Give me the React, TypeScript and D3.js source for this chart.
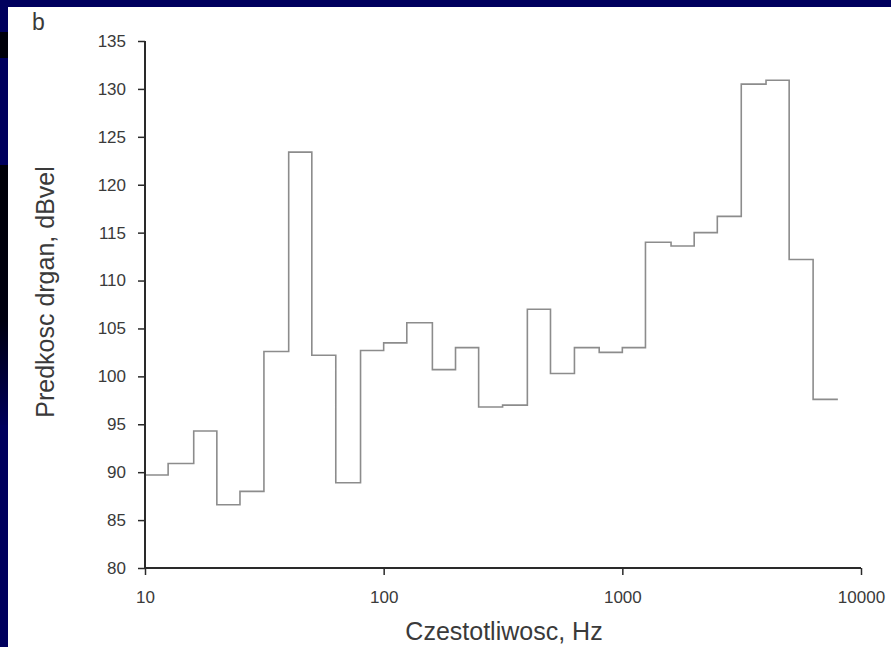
import React, { useEffect, useRef } from 'react';
import * as d3 from 'd3';

// 1/3-octave band edges (Hz) and level per band (dBvel)
const bandFreqs = [10, 12.5, 16, 20, 25, 31.5, 40, 50, 63, 80, 100, 125, 160, 200, 250, 315, 400, 500, 630, 800, 1000, 1250, 1600, 2000, 2500, 3150, 4000, 5000, 6300, 8000];
const levels = [89.7, 90.9, 94.3, 86.6, 88.0, 102.6, 123.4, 102.2, 88.9, 102.7, 103.5, 105.6, 100.7, 103.0, 96.8, 97.0, 107.0, 100.3, 103.0, 102.5, 103.0, 114.0, 113.6, 115.0, 116.7, 130.5, 130.9, 112.2, 97.6];
const xTicks = [10, 100, 1000, 10000];
const yTicks = [80, 85, 90, 95, 100, 105, 110, 115, 120, 125, 130, 135];
const yMinorTicks = [82.5, 87.5, 92.5, 97.5, 102.5, 107.5, 112.5, 117.5, 122.5, 127.5, 132.5];

const W = 891;
const H = 647;
const FONT = "'Liberation Sans', Arial, sans-serif";

const App: React.FC = () => {
  const svgRef = useRef<SVGSVGElement>(null);

  useEffect(() => {
    if (!svgRef.current) return;
    const svg = d3.select(svgRef.current);
    svg.selectAll("*").remove();

    const x = d3.scaleLog().domain([10, 10000]).range([145, 861]);
    const y = d3.scaleLinear().domain([80, 135]).range([568, 41]);

    // slide frame
    const defs = svg.append("defs");
    const fade = defs.append("linearGradient").attr("id", "strip-fade").attr("x1", "0").attr("y1", "0").attr("x2", "0").attr("y2", "1");
    fade.append("stop").attr("offset", "0%").attr("stop-color", "#000008");
    fade.append("stop").attr("offset", "60%").attr("stop-color", "#000010");
    fade.append("stop").attr("offset", "100%").attr("stop-color", "#00005a");

    svg.append("rect").attr("width", W).attr("height", H).attr("fill", "#00005e");
    svg.append("rect").attr("x", 0).attr("y", 32).attr("width", 8).attr("height", 26).attr("fill", "#00000a");
    svg.append("rect").attr("x", 0).attr("y", 165).attr("width", 8).attr("height", 260).attr("fill", "url(#strip-fade)");
    svg.append("rect").attr("x", 8).attr("y", 7).attr("width", W - 8).attr("height", H - 7).attr("fill", "#ffffff");

    const textColor = "#3a3a3a";
    const axisColor = "#2a2a2a";

    // step line
    const pts: [number, number][] = levels.map((v, i) => [bandFreqs[i], v]);
    pts.push([bandFreqs[bandFreqs.length - 1], levels[levels.length - 1]]);
    const line = d3.line<[number, number]>()
      .x(d => x(d[0]))
      .y(d => y(d[1]))
      .curve(d3.curveStepAfter);
    svg.append("path")
      .attr("d", line(pts))
      .attr("fill", "none")
      .attr("stroke", "#8c8c8c")
      .attr("stroke-width", 1.6);

    // x axis
    const xMinor: number[] = [];
    for (let k = 1; k <= 3; k++) {
      for (let m = 2; m <= 9; m++) xMinor.push(m * Math.pow(10, k));
    }
    const gx = svg.append("g").attr("transform", `translate(0,${y(80)})`);
    gx.call(d3.axisBottom(x).tickValues(xMinor).tickSize(4).tickFormat(() => ""));
    gx.call(d3.axisBottom(x).tickValues(xTicks).tickSize(7).tickFormat(d3.format("d")));
    gx.selectAll(".domain").attr("stroke", axisColor).attr("stroke-width", 2).attr("d", `M${x(10)},0H${x(10000)}`);
    gx.selectAll(".tick line").attr("stroke", axisColor).attr("stroke-width", 1.5);
    gx.selectAll(".tick text")
      .attr("fill", textColor)
      .attr("font-family", FONT)
      .attr("font-size", 17)
      .attr("y", 35)
      .attr("dy", 0);

    // y axis
    const gy = svg.append("g").attr("transform", `translate(${x(10)},0)`);
    gy.call(d3.axisLeft(y).tickValues(yMinorTicks).tickSize(4).tickFormat(() => ""));
    gy.call(d3.axisLeft(y).tickValues(yTicks).tickSize(7).tickFormat(d3.format("d")));
    gy.selectAll(".domain").attr("stroke", axisColor).attr("stroke-width", 2).attr("d", `M0,${y(135)}V${y(80)}`);
    gy.selectAll(".tick line").attr("stroke", axisColor).attr("stroke-width", 1.5);
    gy.selectAll(".tick text")
      .attr("fill", textColor)
      .attr("font-family", FONT)
      .attr("font-size", 17)
      .attr("x", -19);

    // titles
    svg.append("text")
      .attr("x", 504).attr("y", 640)
      .attr("text-anchor", "middle")
      .attr("fill", textColor)
      .attr("font-family", FONT)
      .attr("font-size", 25)
      .text("Czestotliwosc, Hz");

    svg.append("text")
      .attr("transform", `translate(54,292) rotate(-90)`)
      .attr("text-anchor", "middle")
      .attr("fill", textColor)
      .attr("font-family", FONT)
      .attr("font-size", 25)
      .text("Predkosc drgan, dBvel");

    svg.append("text")
      .attr("x", 32).attr("y", 30)
      .attr("fill", textColor)
      .attr("font-family", FONT)
      .attr("font-size", 23)
      .text("b");
  }, []);

  return (
    <div style={{ position: "absolute", left: 0, top: 0, width: W, height: H, overflow: "hidden" }}>
      <svg ref={svgRef} width={W} height={H} style={{ display: "block" }} />
    </div>
  );
};

export default App;
